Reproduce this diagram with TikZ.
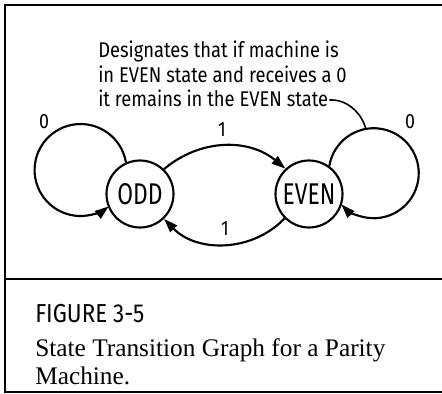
\documentclass[tikz,border=0pt]{standalone}
\usepackage{fontspec}
\setmainfont{Liberation Serif}
\newfontfamily\diagfont[FakeStretch=0.86]{Fira Sans}
\newfontfamily\statefont[FakeStretch=0.76]{Fira Sans}
\usetikzlibrary{arrows.meta}
\begin{document}
\begin{tikzpicture}[x=0.75pt,y=0.75pt,
  state/.style={circle,draw,line width=1.6pt,minimum size=50.25pt,inner sep=0pt,
    font=\statefont\fontsize{22.5}{26}\selectfont},
  trans/.style={line width=1.6pt,-{Triangle[length=10.5pt,width=7pt]}},
  lbl/.style={font=\diagfont\fontsize{15.5}{18}\selectfont,inner sep=0pt},
  note/.style={font=\diagfont\fontsize{16}{19}\selectfont,inner sep=0pt,anchor=base west},
  frame/.style={line width=1.4pt}]
\useasboundingbox (0,0) rectangle (442,-393);
% outer frame and caption divider
\draw[frame] (443,-5) -- (5,-5) -- (5,-392) -- (443,-392);
\draw[frame] (5,-279) -- (443,-279);
% states
\node[state] (odd) at (140,-194) {ODD};
\node[state] (even) at (309,-194) {EVEN};
% self loops
\draw[trans] (odd.114) arc[start angle=9.5,end angle=307.8,radius=34.5pt];
\draw[trans] (even.54.2) arc[start angle=170.8,end angle=-136.1,radius=33.75pt];
% transitions between states
\draw[trans] (odd.46) to[bend left=40] (even.133);
\draw[trans] (even.225) to[bend left=46] (odd.314);
% input labels
\node[lbl] (l0a) at (44,-122) {0};
\node[lbl] (l0b) at (410,-122) {0};
\node[lbl] (l1a) at (222,-130) {1};
\node[lbl] (l1b) at (225,-229) {1};
% annotation with leader to the EVEN self loop
\node[note] (n1) at (98,-57) {Designates that if machine is};
\node[note] (n2) at (98,-82) {in EVEN state and receives a 0};
\node[note] (n3) at (98,-106) {it remains in the EVEN state};
\coordinate (ldrA) at ([shift={(1,6)}]n3.base east);
\coordinate (ldrB) at (366,-129.5);
\draw[line width=1.2pt] (ldrA) .. controls +(18,1) and +(-4,16) .. (ldrB);
% caption
\node[anchor=base west,inner sep=0pt,font=\diagfont\fontsize{19.5}{24}\selectfont] (fig) at (35,-322) {FIGURE 3-5};
\node[anchor=base west,inner sep=0pt,font=\fontsize{19}{23}\selectfont] (cap1) at (35,-356) {State Transition Graph for a Parity};
\node[anchor=base west,inner sep=0pt,font=\fontsize{19}{23}\selectfont] (cap2) at (35,-384) {Machine.};
\end{tikzpicture}
\end{document}
